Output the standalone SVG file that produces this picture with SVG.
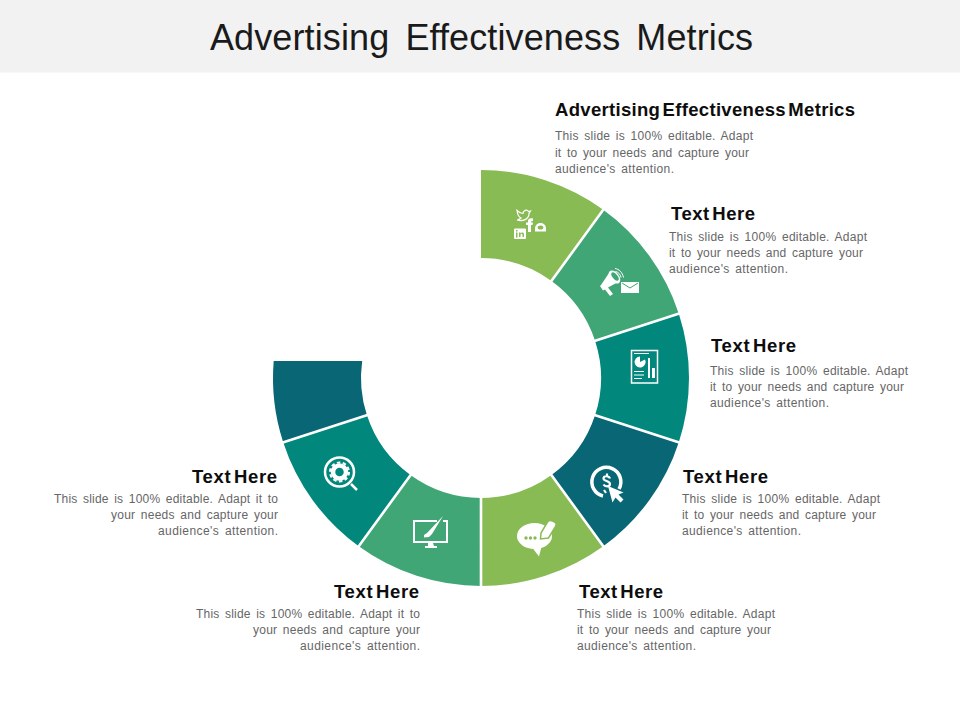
<svg xmlns="http://www.w3.org/2000/svg" width="960" height="720" viewBox="0 0 960 720">
<style>
text{font-family:"Liberation Sans",Arial,sans-serif}
.t{font-size:36px;fill:#1a1a1a;word-spacing:6px}
.h{font-size:18.500px;font-weight:700;fill:#0d0d0d;word-spacing:-3px}
.b{font-size:12px;fill:#666;word-spacing:2px}
.g{fill:#88bb54}.m{fill:#41a675}.e{fill:#02877c}.d{fill:#086675}
.w{fill:#fff}.o{fill:none;stroke:#fff;stroke-width:2}
.sep{stroke:#fff;stroke-width:2.600;fill:none}
</style>
<rect width="960" height="72.500" fill="#f2f2f2"/>
<text class="t" x="210" y="50" textLength="543">Advertising Effectiveness Metrics</text>
<g id="ring">
<path id="seg1" class="g" d="M481 170A208 208 0 0 1 603.26 209.72L551.53 280.92A120 120 0 0 0 481 258Z"/>
<path id="seg2" class="m" d="M603.26 209.72A208 208 0 0 1 678.82 313.72L595.13 340.92A120 120 0 0 0 551.53 280.92Z"/>
<path id="seg3" class="e" d="M678.82 313.72A208 208 0 0 1 678.82 442.28L595.13 415.08A120 120 0 0 0 595.13 340.92Z"/>
<path id="seg4" class="d" d="M678.82 442.28A208 208 0 0 1 603.26 546.28L551.53 475.08A120 120 0 0 0 595.13 415.08Z"/>
<path id="seg5" class="g" d="M603.26 546.28A208 208 0 0 1 481 586L481 498A120 120 0 0 0 551.53 475.08Z"/>
<path id="seg6" class="m" d="M481 586A208 208 0 0 1 358.74 546.28L410.47 475.08A120 120 0 0 0 481 498Z"/>
<path id="seg7" class="e" d="M358.74 546.28A208 208 0 0 1 283.18 442.28L366.87 415.08A120 120 0 0 0 410.47 475.08Z"/>
<path id="seg8" class="d" d="M283.18 442.28A208 208 0 0 1 273.7 361L362.2 361A120 120 0 0 0 366.87 415.08Z"/>
</g>
<g id="separators" class="sep">
<path d="M604 208.7L551 281.6M680 313.3L594.500 341.100M680 442.700L594.500 414.900M604 547.300L551 474.400M481 587L481 497M358 547.300L411 474.400M282 442.700L367.500 414.900"/>
</g>
<g id="icon1">
<path class="o" style="stroke-width:1.200" d="M517 210.500c2 2 4 3 6 3 0-3 4-4.500 5.500-2l2-.5-1.500 2.500c0 5-5 8.500-12 6.500 2 0 3-1 4-2-3-1-3.500-4-4-7.500z"/>
<path class="w" d="M528 232v-7h-2v-2.500h2v-1.500c0-2 1.500-3 5-2.500v2.500c-1.500 0-2 0-2 1.500h2l-.5 2.500h-1.500v7z"/>
<path class="w" d="M535 231.500v-3c0-3 2-5.500 5.500-5.500s5.500 2.500 5.500 5.500v3z"/>
<ellipse cx="540.500" cy="227.500" rx="2.800" ry="2" class="g"/>
<rect class="w" x="514" y="228.500" width="12" height="10.500" rx="1"/>
<path class="g" d="M516 232.500h1.500v5H516zM516 230h1.500v1.500H516zM519 232.500h1.500v1c1-1.500 3.500-1.500 3.500 1v2.500h-1.500v-2.500c0-1-1.500-1-2 0v2.500H519z"/>
</g>
<g id="icon2">
<path class="w" d="M600 286l1-1 8-12 11 8-12 6.500 5 6.500-3 2-5-6.500-2 1z"/>
<ellipse class="w" cx="614.500" cy="277" rx="4.500" ry="7.500" transform="rotate(-38 614.500 277)"/>
<ellipse cx="615" cy="276.500" rx="2.500" ry="5" class="m" transform="rotate(-38 615 276.500)"/>
<path class="o" style="stroke-width:1" d="M615 268.500c4 .5 7.500 4 8.500 9M615.500 271.500c3 .5 5 3 5.500 6"/>
<rect class="w" x="621" y="282" width="18" height="11"/>
<path d="M622 283l8 5 8-5" fill="none" stroke="#41a675" stroke-width="1"/>
</g>
<g id="icon3">
<rect class="o" style="stroke-width:1.500" x="631.500" y="350.500" width="26" height="32.500"/>
<path class="w" d="M640 356.500a5.500 5.500 0 1 0 5 3l-5 2.500z"/>
<path class="o" style="stroke-width:1" d="M634 353.500h15M634 371.500h10M634 375h10M634 378.500h8"/>
<rect class="w" x="648" y="358" width="2" height="20"/>
<rect class="w" x="652" y="368" width="3" height="10"/>
</g>
<g id="icon4">
<path class="o" style="stroke-width:3.500" d="M619 489A14.500 14.500 0 1 0 603 496"/>
<path class="o" style="stroke-width:2.200" d="M610 478.500c-1-3-6.500-3-6.500 0 0 3 6.500 2 6.500 5.500 0 3-5 3-6.500 .5M607 473.500v3M604 490l2 3"/>
<path class="w" d="M608 486l15.500 6.500-5 2 5 5-3 3-5-5-3 5z"/>
</g>
<g id="icon5">
<ellipse class="w" cx="534.500" cy="536" rx="17.500" ry="13"/>
<path class="w" d="M531 546l11-1-3 11.500z"/>
<path class="w" d="M540.500 539l.5-6 6.500-11c1-1.500 3-2 5-1l2 1c1.500 1 2 3 1 4.500l-7 11.500z" stroke="#88bb54" stroke-width="1.500"/>
<circle class="g" cx="526" cy="538" r="1.700"/><circle class="g" cx="530.500" cy="538" r="1.700"/><circle class="g" cx="535" cy="538" r="1.700"/>
</g>
<g id="icon6">
<path class="o" d="M437 521H414V542H447V521H443"/>
<path class="w" d="M424 535l3-2 16-17-11 18-3 3-5 .5z"/>
<path class="w" d="M428 543h5l1 3h3v2H425v-2h3z"/>
</g>
<g id="icon7">
<circle class="o" style="stroke-width:2.500" cx="339.500" cy="472" r="14.500"/>
<circle cx="339.500" cy="472" r="6.500" fill="none" stroke="#fff" stroke-width="4.500"/>
<circle cx="339.500" cy="472" r="9.500" fill="none" stroke="#fff" stroke-width="2" stroke-dasharray="3.500 2.470"/>
<path class="o" style="stroke-width:2.500" d="M351 484L357 490"/>
</g>
<g id="label1">
<text class="h" x="555" y="116" textLength="300">Advertising Effectiveness Metrics</text>
<text class="b" x="555" y="140" textLength="198">This slide is 100% editable. Adapt</text>
<text class="b" x="555" y="157" textLength="194">it to your needs and capture your</text>
<text class="b" x="555" y="173" textLength="119">audience's attention.</text>
</g>
<g id="label2">
<text class="h" x="671" y="220" textLength="84">Text Here</text>
<text class="b" x="669" y="241" textLength="198">This slide is 100% editable. Adapt</text>
<text class="b" x="669" y="257" textLength="194">it to your needs and capture your</text>
<text class="b" x="669" y="273" textLength="119">audience's attention.</text>
</g>
<g id="label3">
<text class="h" x="711" y="352" textLength="85">Text Here</text>
<text class="b" x="710" y="375" textLength="198">This slide is 100% editable. Adapt</text>
<text class="b" x="710" y="391" textLength="194">it to your needs and capture your</text>
<text class="b" x="710" y="407" textLength="119">audience's attention.</text>
</g>
<g id="label4">
<text class="h" x="683" y="483" textLength="85">Text Here</text>
<text class="b" x="682" y="503" textLength="198">This slide is 100% editable. Adapt</text>
<text class="b" x="682" y="519" textLength="194">it to your needs and capture your</text>
<text class="b" x="682" y="535" textLength="119">audience's attention.</text>
</g>
<g id="label5">
<text class="h" x="579" y="598" textLength="84">Text Here</text>
<text class="b" x="577" y="618" textLength="198">This slide is 100% editable. Adapt</text>
<text class="b" x="577" y="634" textLength="194">it to your needs and capture your</text>
<text class="b" x="577" y="650" textLength="119">audience's attention.</text>
</g>
<g id="label6">
<text class="h" x="334" y="598" textLength="85">Text Here</text>
<text class="b" x="196" y="618" textLength="224">This slide is 100% editable. Adapt it to</text>
<text class="b" x="253" y="634" textLength="167">your needs and capture your</text>
<text class="b" x="300" y="650" textLength="120">audience's attention.</text>
</g>
<g id="label7">
<text class="h" x="192" y="483" textLength="85">Text Here</text>
<text class="b" x="54" y="503" textLength="224">This slide is 100% editable. Adapt it to</text>
<text class="b" x="111" y="519" textLength="167">your needs and capture your</text>
<text class="b" x="158" y="535" textLength="120">audience's attention.</text>
</g>
</svg>
